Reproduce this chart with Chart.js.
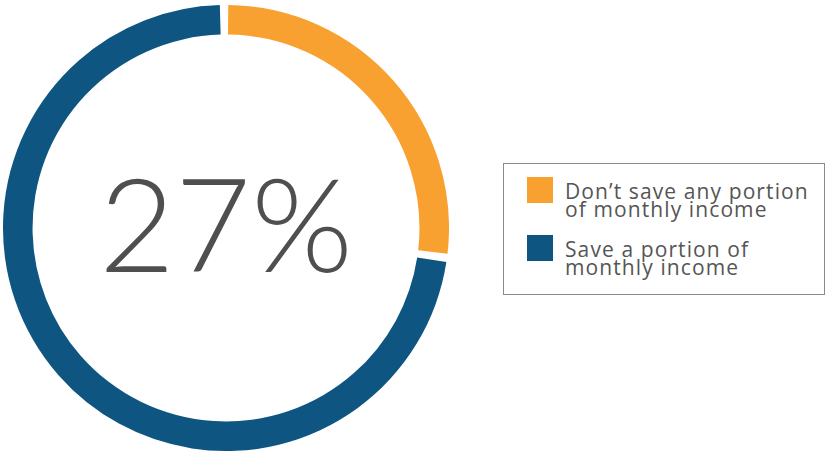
<!DOCTYPE html>
<html>
<head>
<meta charset="utf-8">
<script src="https://cdn.jsdelivr.net/npm/chart.js@4/dist/chart.umd.min.js"></script>
<style>
  html, body { margin: 0; padding: 0; background: #fff; }
  body { width: 828px; height: 454px; position: relative; overflow: hidden; font-family: "Open Sans", "Lato", sans-serif; }
  #ring { position: absolute; left: 3px; top: 5px; width: 446px; height: 446px; }
  #key {
    position: absolute; left: 503px; top: 163px; width: 322px; height: 132px;
    border: 1px solid #8a8a8a; box-sizing: border-box;
  }
  .item { position: absolute; left: 23px; }
  .sw { position: absolute; left: 0; top: 0; width: 26px; height: 26px; }
  .txt { position: absolute; left: 38px; top: 4.5px; width: 290px; color: #555; font-size: 21px; line-height: 18.5px; letter-spacing: 1.1px; white-space: nowrap; }
</style>
</head>
<body>
<div id="ring"><canvas id="donut"></canvas></div>
<div id="key"></div>
<script>
// share of respondents
const categories = ["Don\u2019t save any portion of monthly income", "Save a portion of monthly income"];
const labelLines = [["Don\u2019t save any portion", "of monthly income"], ["Save a portion of", "monthly income"]];
const shares = [27, 73];
const colors = ["#F8A130", "#0E5581"];

// big number in the middle of the ring
const centerLabel = {
  id: 'centerLabel',
  afterDraw(chart) {
    const { ctx } = chart;
    const arc = chart.getDatasetMeta(0).data[0];
    ctx.save();
    ctx.fillStyle = '#4f4f4f';
    ctx.font = '300 131px Lato, "Open Sans", sans-serif';
    ctx.textAlign = 'center';
    ctx.textBaseline = 'alphabetic';
    ctx.fillText(shares[0] + '%', arc.x, arc.y + 44);
    ctx.restore();
  }
};

new Chart(document.getElementById('donut'), {
  type: 'doughnut',
  data: {
    labels: categories,
    datasets: [{
      data: shares,
      backgroundColor: colors,
      borderWidth: 0,
      spacing: 5
    }]
  },
  options: {
    responsive: true,
    maintainAspectRatio: false,
    animation: false,
    cutout: '86.6%',
    layout: { padding: 0 },
    plugins: {
      legend: { display: false },
      tooltip: { enabled: false }
    }
  },
  plugins: [centerLabel]
});

// legend box on the right
const key = document.getElementById('key');
labelLines.forEach((lines, i) => {
  const item = document.createElement('div');
  item.className = 'item';
  item.style.top = (13 + i * 58) + 'px';
  item.innerHTML = '<div class="sw" style="background:' + colors[i] + '"></div>' +
    '<div class="txt">' + lines.join('<br>') + '</div>';
  key.appendChild(item);
});
</script>
</body>
</html>
